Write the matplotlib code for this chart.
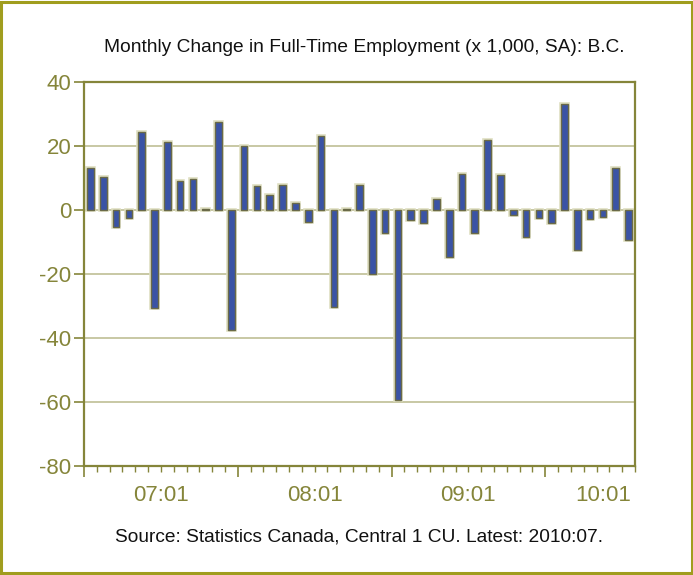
import matplotlib
matplotlib.use("Agg")
import matplotlib.pyplot as plt
from matplotlib.patches import Rectangle
import numpy as np

plt.rcParams["font.family"] = ["Liberation Sans", "DejaVu Sans"]

# monthly change, 2007:01 .. 2010:07 (x 1,000, SA)
values = [
    13.0, 10.3, -5.2, -2.4, 24.3, -30.5, 21.1, 9.1, 9.8, 0.2, 27.6, -37.5,
    20.0, 7.5, 4.7, 7.8, 2.3, -3.9, 23.1, -30.2, 0.3, 7.8, -20.0, -7.3,
    -59.4, -3.2, -4.0, 3.3, -14.6, 11.4, -7.3, 21.9, 11.0, -1.6, -8.5, -2.6,
    -4.2, 33.0, -12.6, -2.8, -2.3, 13.2, -9.5,
]
year_labels = ["07:01", "08:01", "09:01", "10:01"]
year_label_pos = [5.5, 17.5, 29.5, 40.0]
y_ticks = [40, 20, 0, -20, -40, -60, -80]

OLIVE = "#85853a"
GRID = "#b9b98c"
BAR = "#3a53a5"

fig = plt.figure(figsize=(6.93, 5.75), dpi=100)
fig.patches.append(Rectangle((0.002, 0.003), 0.996, 0.994, transform=fig.transFigure,
                             fill=False, edgecolor="#a09d1e", linewidth=2.2))

ax = fig.add_axes([0.1212, 0.1896, 0.7951, 0.6678])
x = np.arange(len(values))

for y in [20, 0, -20, -40, -60]:
    ax.axhline(y, color=GRID, lw=1.1, zorder=1)

ax.bar(x, values, width=0.52, color=BAR, edgecolor="#dedec0", linewidth=2.6, zorder=2)
ax.bar(x, values, width=0.52, color=BAR, edgecolor="#6a6a48", linewidth=1.0, zorder=3)

ax.set_xlim(-0.5, len(values) - 0.5)
ax.set_ylim(-80, 40)
ax.set_yticks(y_ticks)
ax.set_yticklabels([str(v) for v in y_ticks])

ax.set_xticks([-0.5, 11.5, 23.5, 35.5])
ax.set_xticklabels([])
ax.set_xticks(np.arange(-0.5, len(values), 1.0), minor=True)
ax.tick_params(axis="x", which="major", length=8, width=1.2, color=OLIVE, direction="out")
ax.tick_params(axis="x", which="minor", length=4, width=1.0, color=OLIVE, direction="out")
ax.tick_params(axis="y", length=7, width=1.2, color=OLIVE, labelcolor=OLIVE,
               labelsize=16, pad=2)

for lab, pos in zip(year_labels, year_label_pos):
    ax.text(pos, -0.077, lab, transform=ax.get_xaxis_transform(), ha="center", va="center",
            color=OLIVE, fontsize=16)

for s in ax.spines.values():
    s.set_color(OLIVE)
    s.set_linewidth(1.6)

fig.text(0.525, 1 - 47 / 575, "Monthly Change in Full-Time Employment (x 1,000, SA): B.C.",
         ha="center", va="center", fontsize=13.8, color="#111111")
fig.text(0.518, 1 - 537 / 575, "Source: Statistics Canada, Central 1 CU. Latest: 2010:07.",
         ha="center", va="center", fontsize=13.8, color="#111111")

fig.savefig("out.png", dpi=100)
